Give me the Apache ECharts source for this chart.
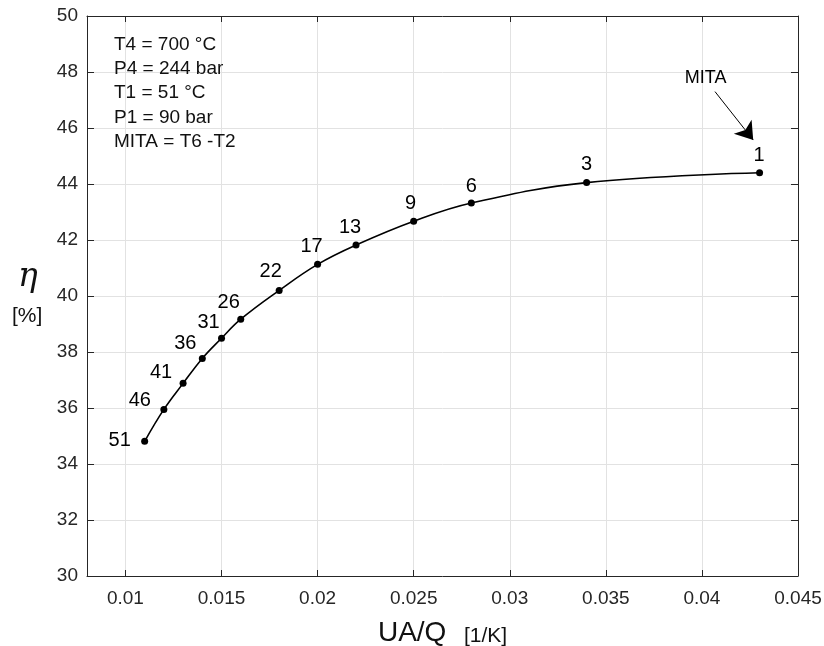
<!DOCTYPE html>
<html>
<head>
<meta charset="utf-8">
<script src="https://cdn.jsdelivr.net/npm/echarts@6/dist/echarts.min.js"></script>
<style>
  html, body { margin: 0; padding: 0; background: #fff; }
  #chart { width: 824px; height: 646px; }
</style>
</head>
<body>
<div id="chart"></div>
<script>
// Cycle efficiency versus recuperator conductance, one point per MITA value
const uaq   = [0.011, 0.012, 0.013, 0.014, 0.015, 0.016, 0.018, 0.020, 0.022, 0.025, 0.028, 0.034, 0.043];
const eta   = [34.81, 35.95, 36.88, 37.77, 38.49, 39.17, 40.20, 41.13, 41.82, 42.67, 43.32, 44.05, 44.40];
const mita  = ['51', '46', '41', '36', '31', '26', '22', '17', '13', '9', '6', '3', '1'];

const xTicks = [0.01, 0.015, 0.02, 0.025, 0.03, 0.035, 0.04, 0.045];
const xRange = [0.008, 0.045];
const yRange = [30, 50];
const yStep = 2;

const notes = ['T4 = 700 °C', 'P4 = 244 bar', 'T1 = 51 °C', 'P1 = 90 bar', 'MITA = T6 -T2'];

// arrow pointing at the smallest MITA point
const arrowFrom = [0.04068, 47.30];
const arrowTo   = [0.04267, 45.57];
const arrowText = [0.04019, 47.77];

// label offsets (px) of each point's MITA tag, relative to the marker
const labelOffsets = [
  [-25, -1], [-24, -8.5], [-22, -11], [-17, -15], [-13, -16], [-12, -17], [-8.5, -19],
  [-6, -18], [-6, -17.5], [-3, -17.5], [0, -17], [0, -18], [-0.6, -17]
];

const FONT = "'Liberation Sans', Arial, Helvetica, sans-serif";
const AX = '#262626';
const GRID = '#e2e2e2';

const chart = echarts.init(document.getElementById('chart'), null, { renderer: 'canvas' });

const points = uaq.map((x, i) => ({
  value: [x, eta[i]],
  label: { offset: labelOffsets[i] }
}));

const baseX = {
  type: 'value', min: xRange[0], max: xRange[1],
  axisLine: { show: true, onZero: false, lineStyle: { color: AX, width: 1 } },
  axisTick: { show: true, inside: true, length: 6, customValues: xTicks, lineStyle: { color: AX } },
  splitLine: { show: false },
  axisLabel: { show: false }
};
const baseY = {
  type: 'value', min: yRange[0], max: yRange[1], interval: yStep,
  axisLine: { show: true, onZero: false, lineStyle: { color: AX, width: 1 } },
  axisTick: { show: true, inside: true, length: 7, lineStyle: { color: AX } },
  splitLine: { show: false },
  axisLabel: { show: false }
};

chart.setOption({
  animation: false,
  backgroundColor: '#fff',
  grid: { left: 87, right: 26, top: 16, bottom: 70, containLabel: false, outerBoundsMode: 'none' },
  xAxis: [
    Object.assign({}, baseX, {
      position: 'bottom',
      splitLine: { show: true, lineStyle: { color: GRID, width: 1 } },
      axisLabel: {
        show: true, customValues: xTicks, margin: 13,
        color: AX, fontSize: 19, fontFamily: FONT,
        formatter: v => String(+v.toFixed(3))
      },
      name: '{a|UA/Q}{b|   [1/K]}',
      nameLocation: 'middle',
      nameGap: 43,
      nameTextStyle: {
        rich: {
          a: { fontSize: 28, fontFamily: FONT, color: '#111', verticalAlign: 'bottom' },
          b: { fontSize: 21, fontFamily: FONT, color: '#111', verticalAlign: 'bottom' }
        }
      }
    }),
    Object.assign({}, baseX, { position: 'top' })
  ],
  yAxis: [
    Object.assign({}, baseY, {
      position: 'left',
      splitLine: { show: true, lineStyle: { color: GRID, width: 1 } },
      axisLabel: { show: true, margin: 9, color: AX, fontSize: 19, fontFamily: FONT }
    }),
    Object.assign({}, baseY, { position: 'right' })
  ],
  graphic: [
    {
      type: 'text', left: 18, top: 261, z: 100,
      style: { text: 'η', font: 'italic 33px "DejaVu Serif", "Liberation Serif", serif', fill: '#111' }
    },
    {
      type: 'text', left: 12, top: 306, z: 100,
      style: { text: '[%]', font: '21px ' + FONT, fill: '#111' }
    }
  ].concat(notes.map((t, i) => ({
    type: 'text', left: 114, top: 35 + i * 24.35, z: 100,
    style: { text: t, font: '19px ' + FONT, fill: '#111' }
  }))),
  series: [{
    type: 'line',
    xAxisIndex: 0, yAxisIndex: 0,
    data: points,
    smooth: 0.4,
    symbol: 'circle',
    symbolSize: 7,
    itemStyle: { color: '#000' },
    lineStyle: { color: '#000', width: 1.6 },
    label: {
      show: true, position: 'inside',
      formatter: p => mita[p.dataIndex],
      color: '#000', fontSize: 20, fontFamily: FONT
    },
    emphasis: { disabled: true },
    markLine: {
      silent: true,
      symbol: ['none', 'arrow'],
      symbolSize: 17,
      lineStyle: { color: '#000', width: 1, type: 'solid' },
      label: { show: false },
      emphasis: { disabled: true },
      data: [[{ coord: arrowFrom }, { coord: arrowTo }]]
    },
    markPoint: {
      silent: true,
      symbol: 'circle',
      symbolSize: 0,
      label: { show: true, position: 'inside', formatter: 'MITA', color: '#000', fontSize: 18, fontFamily: FONT },
      data: [{ coord: arrowText }]
    }
  }]
});
</script>
</body>
</html>
